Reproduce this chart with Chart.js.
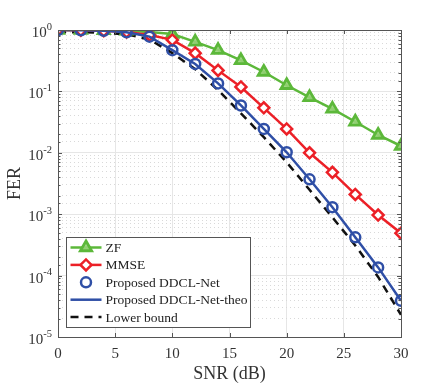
<!DOCTYPE html>
<html>
<head>
<meta charset="utf-8">
<script src="https://cdn.jsdelivr.net/npm/chart.js@4.4.1/dist/chart.umd.min.js"></script>
<style>
    html, body { margin: 0; padding: 0; background: #fff; }
    #wrap { width: 443px; height: 388px; }
</style>
</head>
<body>
<div id="wrap"><canvas id="ferChart"></canvas></div>
<script>
// SNR points (dB)
const snr = [0, 2, 4, 6, 8, 10, 12, 14, 16, 18, 20, 22, 24, 26, 28, 30];

// FER curves
const zf = [1.0, 1.0, 0.99, 0.97, 0.93, 0.86, 0.64, 0.47, 0.32, 0.207, 0.126, 0.080, 0.052, 0.032, 0.0195, 0.0129];
const mmse = [1.0, 0.99, 0.97, 0.93, 0.83, 0.69, 0.42, 0.22, 0.118, 0.054, 0.0245, 0.0100, 0.0048, 0.0021, 0.00097, 0.00049];
const ddcl = [1.0, 0.99, 0.97, 0.92, 0.78, 0.47, 0.28, 0.135, 0.059, 0.0245, 0.0102, 0.0037, 0.0013, 0.00042, 0.000136, 0.000039];
const ddclTheo = [1.0, 0.99, 0.97, 0.92, 0.78, 0.47, 0.28, 0.135, 0.059, 0.0245, 0.0102, 0.0037, 0.0013, 0.00042, 0.000136, 0.000039];
const lowerBound = [0.92, 0.92, 0.9, 0.85, 0.7, 0.42, 0.23, 0.105, 0.044, 0.018, 0.0070, 0.0025, 0.00089, 0.00031, 0.000095, 0.000023];

// Axis ticks
const xTicks = [0, 5, 10, 15, 20, 25, 30];
const yExponents = [0, -1, -2, -3, -4, -5];

const serif = "'Liberation Serif', 'Times New Roman', serif";

function isMajor(v) {
    const l = Math.log10(v);
    return Math.abs(l - Math.round(l)) < 1e-9;
}

function pts(arr) {
    return arr.map((v, i) => ({ x: snr[i], y: v }));
}

// Frame + inward tick marks, MATLAB style
const framePlugin = {
    id: 'frame',
    afterDatasetsDraw(chart) {
        const { ctx, chartArea: a, scales } = chart;
        ctx.save();
        ctx.strokeStyle = '#555';
        ctx.lineWidth = 1;
        ctx.beginPath();
        xTicks.forEach(t => {
            const x = Math.round(scales.x.getPixelForValue(t)) + 0.5;
            ctx.moveTo(x, a.bottom); ctx.lineTo(x, a.bottom - 4);
            ctx.moveTo(x, a.top); ctx.lineTo(x, a.top + 4);
        });
        scales.y2.ticks.concat(scales.y.ticks).forEach(t => {
            const y = Math.round(scales.y.getPixelForValue(t.value)) + 0.5;
            const len = isMajor(t.value) ? 4 : 2.5;
            ctx.moveTo(a.left, y); ctx.lineTo(a.left + len, y);
            ctx.moveTo(a.right, y); ctx.lineTo(a.right - len, y);
        });
        ctx.stroke();
        ctx.strokeRect(Math.round(a.left) + 0.5, Math.round(a.top) + 0.5,
            Math.round(a.right - a.left), Math.round(a.bottom - a.top));
        ctx.restore();
    }
};

// y tick labels as 10 with a raised exponent
const expLabelPlugin = {
    id: 'expLabels',
    afterDraw(chart) {
        const { ctx, chartArea: a, scales } = chart;
        ctx.save();
        ctx.fillStyle = '#333';
        ctx.textBaseline = 'middle';
        ctx.textAlign = 'left';
        scales.y.ticks.forEach(t => {
            const y = scales.y.getPixelForValue(t.value);
            const exp = String(Math.round(Math.log10(t.value)));
            ctx.font = '10.5px ' + serif;
            const ew = ctx.measureText(exp).width;
            ctx.font = '15px ' + serif;
            const bw = ctx.measureText('10').width;
            const right = a.left - 6;
            ctx.fillText('10', right - ew - bw, y + 3);
            ctx.font = '10.5px ' + serif;
            ctx.fillText(exp, right - ew, y - 3);
        });
        ctx.restore();
    }
};

// Legend box in the lower-left of the plot
const legendPlugin = {
    id: 'boxLegend',
    afterDraw(chart) {
        const { ctx, chartArea: a } = chart;
        const sets = chart.data.datasets;
        const rowH = 17.4;
        const w = 184, h = 90;
        const x0 = Math.round(a.left + 8) + 0.5;
        const y0 = Math.round(a.bottom - 10 - h) + 0.5;
        ctx.save();
        ctx.fillStyle = '#fff';
        ctx.fillRect(x0, y0, w, h);
        ctx.strokeStyle = '#555';
        ctx.lineWidth = 1;
        ctx.strokeRect(x0, y0, w, h);
        ctx.font = '13.5px ' + serif;
        ctx.textBaseline = 'middle';
        sets.forEach((ds, i) => {
            const cy = y0 + 10 + i * rowH;
            const sx1 = x0 + 4, sx2 = x0 + 35, mx = (sx1 + sx2) / 2;
            if (ds.showLine !== false) {
                ctx.save();
                ctx.strokeStyle = ds.borderColor;
                ctx.lineWidth = ds.borderWidth;
                ctx.setLineDash(ds.borderDash || []);
                ctx.beginPath();
                ctx.moveTo(sx1, cy); ctx.lineTo(sx2, cy);
                ctx.stroke();
                ctx.restore();
            }
            if (ds.pointRadius > 0) {
                ctx.save();
                ctx.strokeStyle = ds.pointBorderColor;
                ctx.fillStyle = ds.pointBackgroundColor;
                ctx.lineWidth = ds.pointBorderWidth;
                Chart.helpers.drawPoint(ctx, {
                    pointStyle: ds.pointStyle, rotation: 0,
                    radius: ds.pointRadius, borderWidth: ds.pointBorderWidth
                }, mx, cy);
                ctx.restore();
            }
            ctx.fillStyle = '#222';
            ctx.fillText(ds.label, x0 + 39, cy + 1);
        });
        ctx.restore();
    }
};

const green = '#5cb83a';
const red = '#ec2027';
const blue = '#2f4fa6';

new Chart(document.getElementById('ferChart'), {
    type: 'line',
    data: {
        datasets: [
            {
                label: 'ZF', data: pts(zf),
                borderColor: green, borderWidth: 2.5,
                pointStyle: 'triangle', pointRadius: 6.5, pointBorderWidth: 2.8,
                pointBorderColor: green, pointBackgroundColor: 'rgba(150,210,120,0.9)',
                order: 3
            },
            {
                label: 'MMSE', data: pts(mmse),
                borderColor: red, borderWidth: 2.5,
                pointStyle: 'rectRot', pointRadius: 5.5, pointBorderWidth: 2.5,
                pointBorderColor: red, pointBackgroundColor: '#fff',
                order: 2
            },
            {
                label: 'Proposed DDCL-Net', data: pts(ddcl),
                showLine: false, borderColor: blue, borderWidth: 2.5,
                pointStyle: 'circle', pointRadius: 5, pointBorderWidth: 2.5,
                pointBorderColor: blue, pointBackgroundColor: 'rgba(255,255,255,0)',
                order: 0
            },
            {
                label: 'Proposed DDCL-Net-theo', data: pts(ddclTheo),
                borderColor: blue, borderWidth: 2.5, pointRadius: 0,
                order: 1
            },
            {
                label: 'Lower bound', data: pts(lowerBound),
                borderColor: '#111', borderWidth: 2.5, borderDash: [8, 6], pointRadius: 0,
                order: 4
            }
        ]
    },
    options: {
        responsive: true,
        maintainAspectRatio: false,
        animation: false,
        layout: { padding: { left: 0, top: 30, right: 42, bottom: 0 } },
        plugins: {
            legend: { display: false },
            tooltip: { enabled: false }
        },
        scales: {
            x: {
                type: 'linear', min: 0, max: 30,
                afterBuildTicks: s => { s.ticks = xTicks.map(v => ({ value: v })); },
                afterFit: s => { s.height = 51; },
                grid: { color: '#e6e6e6', drawTicks: false },
                border: { color: '#555' },
                ticks: { color: '#333', padding: 8, font: { family: serif, size: 15 } },
                title: {
                    display: true, text: 'SNR (dB)', color: '#333',
                    font: { family: serif, size: 18 }, padding: { top: 0, bottom: 3 }
                }
            },
            y: {
                type: 'logarithmic', min: 1e-5, max: 1,
                afterBuildTicks: s => { s.ticks = yExponents.map(e => ({ value: Math.pow(10, e) })); },
                afterFit: s => { s.width = 58; },
                grid: { color: '#e6e6e6', drawTicks: false },
                border: { color: '#555' },
                ticks: { display: false },
                title: {
                    display: true, text: 'FER', color: '#333',
                    font: { family: serif, size: 18 }, padding: { top: 4, bottom: 0 }
                }
            },
            y2: {
                type: 'logarithmic', min: 1e-5, max: 1, position: 'left',
                afterBuildTicks: s => { s.ticks = s.ticks.filter(t => !isMajor(t.value)); },
                afterFit: s => { s.width = 0; },
                grid: { color: '#d9d9d9', drawTicks: false },
                border: { display: false, dash: [1, 3] },
                ticks: { display: false }
            }
        }
    },
    plugins: [framePlugin, expLabelPlugin, legendPlugin]
});
</script>
</body>
</html>
